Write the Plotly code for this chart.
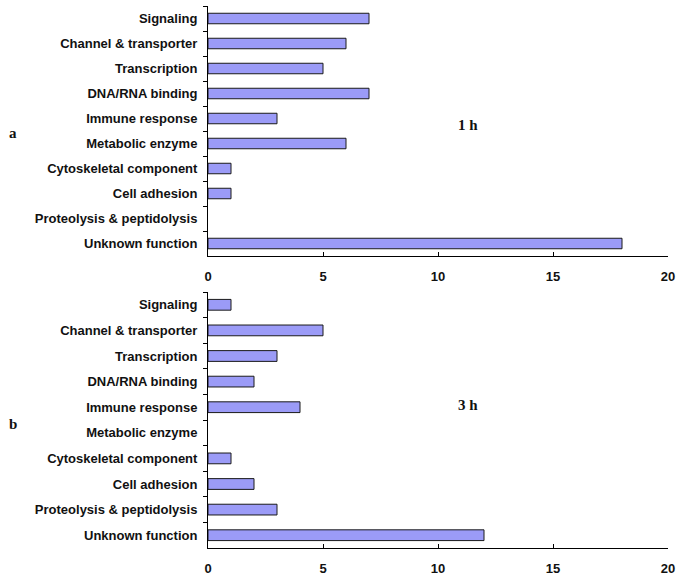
import plotly.graph_objects as go

categories = ["Signaling", "Channel & transporter", "Transcription", "DNA/RNA binding",
              "Immune response", "Metabolic enzyme", "Cytoskeletal component",
              "Cell adhesion", "Proteolysis & peptidolysis", "Unknown function"]
values_1h = [7, 6, 5, 7, 3, 6, 1, 1, 0, 18]
values_3h = [1, 5, 3, 2, 4, 0, 1, 2, 3, 12]
x_ticks = [0, 5, 10, 15, 20]
panel_labels = ["a", "b"]
time_labels = ["1 h", "3 h"]

W, H = 685, 585
fig = go.Figure()

bar_style = dict(orientation="h", width=0.42,
                 marker=dict(color="#9b9bf7", line=dict(color="#1a1a1a", width=1)),
                 showlegend=False, hoverinfo="x+y")
# zero-count categories draw no bar
fig.add_trace(go.Bar(x=[v if v else None for v in values_1h], y=categories,
                     xaxis="x", yaxis="y", **bar_style))
fig.add_trace(go.Bar(x=[v if v else None for v in values_3h], y=categories,
                     xaxis="x2", yaxis="y2", **bar_style))

xdom = [208 / W, 668 / W]
top_dom = [1 - 256 / H, 1 - 6 / H]
bot_dom = [1 - 548 / H, 1 - 292 / H]

tickfont = dict(family="Liberation Sans, Arial", size=13, color="#111", weight="bold")

xcommon = dict(range=[0, 20], tickvals=x_ticks, ticks="inside", ticklen=4, tickcolor="black",
               showline=True, linecolor="black", linewidth=1, showgrid=False, zeroline=False,
               tickfont=tickfont, ticklabelstandoff=8, domain=xdom, fixedrange=True,
               automargin=False)
ycommon = dict(type="category", categoryorder="array", categoryarray=categories,
               autorange="reversed", ticks="outside", ticklen=4, tickcolor="black",
               tickson="boundaries", showline=True, linecolor="black", linewidth=1,
               showgrid=False, tickfont=tickfont, ticklabelstandoff=7, fixedrange=True,
               automargin=False)

fig.update_layout(
    width=W, height=H,
    margin=dict(l=0, r=0, t=0, b=0),
    paper_bgcolor="white", plot_bgcolor="white",
    xaxis=dict(anchor="y", **xcommon),
    yaxis=dict(anchor="x", domain=top_dom, **ycommon),
    xaxis2=dict(anchor="y2", **xcommon),
    yaxis2=dict(anchor="x2", domain=bot_dom, **ycommon),
)

serif = dict(family="Liberation Serif, Times New Roman", size=15, color="#111", weight="bold")
for lab, ty in zip(panel_labels, [133, 424]):
    fig.add_annotation(text=lab, x=13 / W, y=1 - ty / H, xref="paper", yref="paper",
                       showarrow=False, font=serif, xanchor="center", yanchor="middle")
for lab, ty in zip(time_labels, [125, 405]):
    fig.add_annotation(text=lab, x=468 / W, y=1 - ty / H, xref="paper", yref="paper",
                       showarrow=False, font=serif, xanchor="center", yanchor="middle")

fig.write_html("out.html", config={"displayModeBar": False},
               post_script="document.body.style.margin='0';document.body.style.overflow='hidden';")
